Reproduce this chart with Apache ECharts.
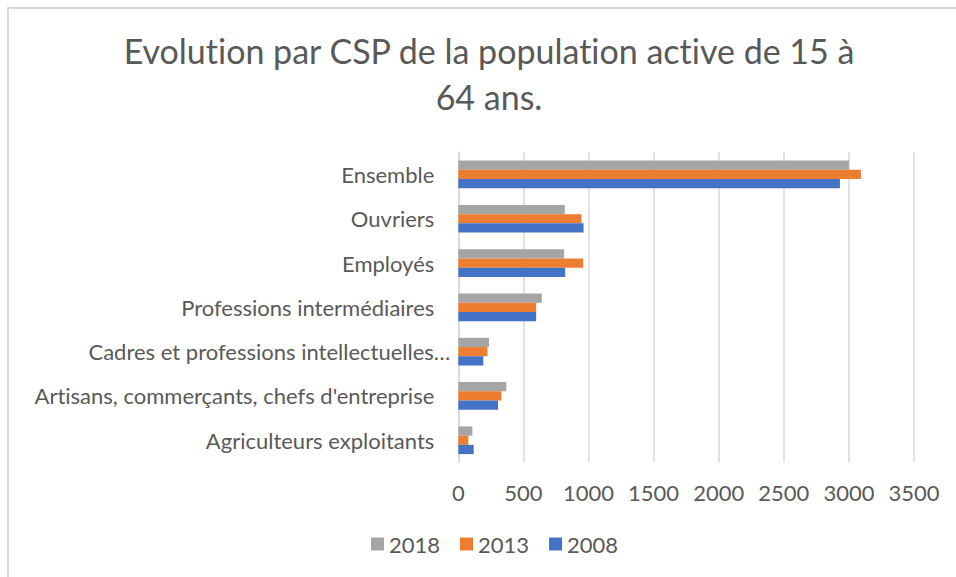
<!DOCTYPE html>
<html>
<head>
<meta charset="utf-8">
<script src="https://cdn.jsdelivr.net/npm/echarts@6/dist/echarts.min.js"></script>
<style>
  html, body { margin: 0; padding: 0; background: #ffffff; }
  #chart { width: 956px; height: 577px; }
  #chart text { font-variant-ligatures: none; }
</style>
</head>
<body>
<div id="chart"></div>
<script>
// Active population aged 15-64 by socio-professional category (CSP)
const categories = [
  "Agriculteurs exploitants",
  "Artisans, commerçants, chefs d'entreprise",
  "Cadres et professions intellectuelles…",
  "Professions intermédiaires",
  "Employés",
  "Ouvriers",
  "Ensemble"
];
const values2008 = [118, 305, 192, 598, 821, 962, 2931];
const values2013 = [77, 331, 224, 598, 959, 946, 3092];
const values2018 = [108, 369, 236, 641, 813, 818, 3000];
const xTicks = { min: 0, max: 3500, step: 500 };

const textColor = '#595959';
const gridColor = '#d9d9d9';
const font = 'Lato, "Open Sans", sans-serif';

const chart = echarts.init(document.getElementById('chart'), null, { renderer: 'svg' });

function bar(name, data, color) {
  return {
    name: name,
    type: 'bar',
    data: data,
    barGap: '0%',
    barCategoryGap: '37.5%',
    itemStyle: { color: color },
    emphasis: { disabled: true }
  };
}

chart.setOption({
  animation: false,
  backgroundColor: '#ffffff',
  textStyle: { fontFamily: font },
  title: {
    text: 'Evolution par CSP de la population active de 15 à\n64 ans.',
    left: 484,
    textAlign: 'center',
    top: 22,
    textStyle: {
      fontFamily: font,
      fontSize: 34,
      fontWeight: 'normal',
      color: textColor,
      lineHeight: 46
    }
  },
  graphic: [{
    type: 'rect',
    shape: { x: 8, y: 8, width: 1000, height: 1000 },
    style: { fill: 'none', stroke: gridColor, lineWidth: 2 },
    silent: true
  }],
  legend: {
    data: ['2018', '2013', '2008'],
    left: 366,
    top: 526,
    icon: 'rect',
    itemWidth: 13,
    itemHeight: 13,
    itemGap: 20,
    textStyle: { fontFamily: font, fontSize: 22, color: textColor, lineHeight: 26 }
  },
  grid: {
    left: 458.3,
    right: 42,
    top: 152.3,
    bottom: 114.6,
    containLabel: false
  },
  xAxis: {
    type: 'value',
    min: xTicks.min,
    max: xTicks.max,
    interval: xTicks.step,
    axisLine: { show: false },
    axisTick: { show: false },
    splitLine: { show: true, lineStyle: { color: gridColor, width: 1.5 } },
    axisLabel: {
      fontFamily: font,
      fontSize: 22,
      color: textColor,
      margin: 19,
      formatter: function (v) { return String(v); }
    }
  },
  yAxis: {
    type: 'category',
    data: categories,
    axisLine: { show: true, lineStyle: { color: gridColor, width: 1.5 } },
    axisTick: { show: false },
    axisLabel: {
      fontFamily: font,
      fontSize: 22,
      color: textColor,
      margin: 8,
      formatter: function (v) {
        return v.endsWith('…') ? '{c|' + v + '}' : '{n|' + v + '}';
      },
      rich: {
        n: { fontFamily: font, fontSize: 22, color: textColor, padding: [0, 16, 0, 0] },
        c: { fontFamily: font, fontSize: 22, color: textColor }
      }
    }
  },
  series: [
    bar('2018', values2018, '#a5a5a5'),
    bar('2013', values2013, '#ed7d31'),
    bar('2008', values2008, '#4472c4')
  ]
});
</script>
</body>
</html>
